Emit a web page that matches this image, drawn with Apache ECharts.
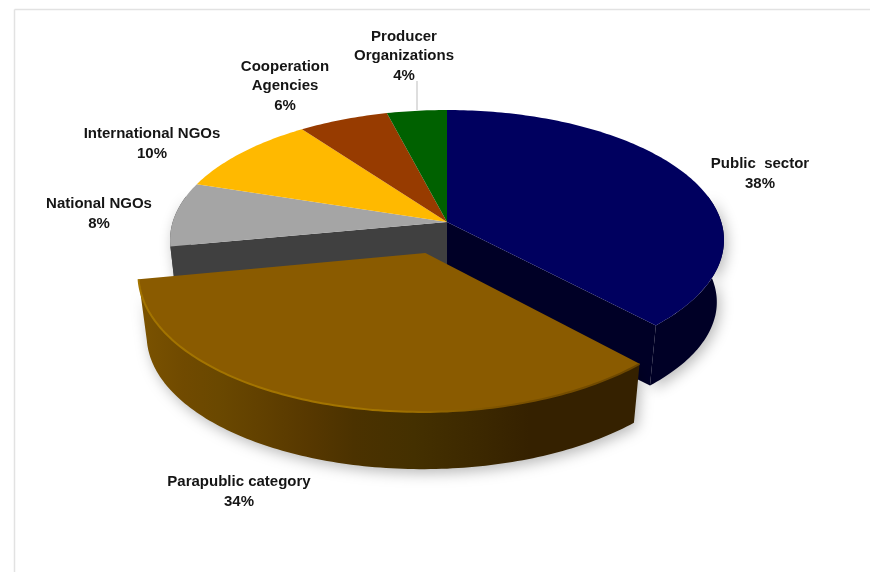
<!DOCTYPE html>
<html>
<head>
<meta charset="utf-8">
<style>html,body{margin:0;padding:0;background:#fff}#c{width:870px;height:572px}</style>
<script src="https://cdn.jsdelivr.net/npm/echarts@6/dist/echarts.min.js"></script>
</head>
<body>
<div id="c"></div>
<script>
// ---- data ----
var categories = ['Public  sector', 'Parapublic category', 'National NGOs', 'International NGOs', 'Cooperation\nAgencies', 'Producer\nOrganizations'];
var shares = [38, 34, 8, 10, 6, 4];
var explodedCategory = 'Parapublic category';

// ---- styles (one entry per category) ----
var topColors = ['#00005f', '#8a5b00', '#a5a5a5', '#ffb900', '#973b00', '#006100'];
var wallColors = ['#000026', '#5a3c00', '#404040', '#664a00', '#3c1800', '#002700'];
var labelCentres = [[760, 174], [239, 492], [99, 214], [152, 144], [285, 86], [404, 56]];

// ---- projection of the tilted disc ----
var cx = 447, apexY = 222, baseY = 285, a = 274.3, b = 127.5, k = -0.1385, depthW = 0.026, explode = 0.247;
function project(u, v, bottom) {
  var w = 1 + k * v + (bottom ? depthW : 0);
  return [cx + a * u / w, (bottom ? baseY : apexY) + b * v / w];
}
function rim(deg, off, bottom) {
  var t = deg * Math.PI / 180;
  return project(Math.sin(t) + off[0], -Math.cos(t) + off[1], bottom);
}
function arc(from, to, off, bottom) {
  var pts = [], n = Math.max(2, Math.ceil(Math.abs(to - from)));
  for (var i = 0; i <= n; i++) pts.push(rim(from + (to - from) * i / n, off, bottom));
  return pts;
}
var total = shares.reduce(function (s, v) { return s + v; }, 0);

function renderSlice(params, api) {
  var idx = params.dataIndex, before = 0;
  for (var i = 0; i < idx; i++) before += shares[i];
  var start = before / total * 360, end = start + api.value(0) / total * 360;
  var isExploded = categories[idx] === explodedCategory;
  var off = [0, 0];
  if (isExploded) {
    var mid = (start + end) / 2 * Math.PI / 180;
    off = [explode * Math.sin(mid), -explode * Math.cos(mid)];
  }
  var base = isExploded ? 10 : 0, children = [];
  var apexTop = project(off[0], off[1], false), apexBottom = project(off[0], off[1], true);

  // outer wall, front-facing part only
  var from = Math.max(start, 78), to = Math.min(end, 282);
  if (to > from) {
    var fill = wallColors[idx];
    if (isExploded) {
      fill = new echarts.graphic.LinearGradient(0, 0, 1, 0, [
        {offset: 0, color: '#7b5300'}, {offset: .09, color: '#704a00'}, {offset: .16, color: '#6a4800'},
        {offset: .24, color: '#624100'}, {offset: .34, color: '#573800'}, {offset: .43, color: '#4b3200'},
        {offset: .55, color: '#443000'}, {offset: .68, color: '#3c2800'}, {offset: .78, color: '#352100'}, {offset: 1, color: '#352100'}
      ]);
    }
    children.push({type: 'polygon', z2: base + 1, silent: true,
      shape: {points: arc(from, to, off, false).concat(arc(to, from, off, true))},
      style: {fill: fill, shadowColor: 'rgba(0,0,0,0.28)', shadowBlur: 14, shadowOffsetX: 3, shadowOffsetY: 4}});
  }
  // radial walls exposed by the pulled-out slice
  if (!isExploded) {
    var next = categories[(idx + 1) % categories.length] === explodedCategory;
    var prev = categories[(idx - 1 + categories.length) % categories.length] === explodedCategory;
    [next ? end : null, prev ? start : null].forEach(function (deg) {
      if (deg === null) return;
      children.push({type: 'polygon', z2: base + 2, silent: true,
        shape: {points: [apexTop, rim(deg, off, false), rim(deg, off, true), apexBottom]},
        style: {fill: wallColors[idx]}});
    });
  }
  // top face
  children.push({type: 'polygon', z2: base + 3, silent: true,
    shape: {points: [apexTop].concat(arc(start, end, off, false))},
    style: {fill: topColors[idx]}});
  if (isExploded) {
    children.push({type: 'polyline', z2: base + 4, silent: true,
      shape: {points: arc(start, end, off, false)},
      style: {fill: null, lineWidth: 2, stroke: new echarts.graphic.LinearGradient(0, 0, 1, 0, [
        {offset: 0, color: '#a37400'}, {offset: .5, color: '#a37400'}, {offset: .72, color: '#7c5200'}, {offset: 1, color: '#6b4600'}
      ])}});
  }
  // label: category name + share
  var c = labelCentres[idx];
  children.push({type: 'text', z2: 30, silent: true,
    style: {x: c[0], y: c[1], text: categories[idx] + '\n' + api.value(0) + '%',
      font: 'bold 15px "Liberation Sans", Arial, sans-serif', lineHeight: 19.5,
      fill: '#151515', align: 'center', verticalAlign: 'middle'}});
  return {type: 'group', children: children};
}

var chart = echarts.init(document.getElementById('c'), null, {renderer: 'canvas'});
chart.setOption({
  animation: false,
  backgroundColor: '#ffffff',
  graphic: [
    {type: 'line', silent: true, shape: {x1: 14.5, y1: 9.5, x2: 870, y2: 9.5}, style: {stroke: '#e2e2e2', lineWidth: 1.5}},
    {type: 'line', silent: true, shape: {x1: 14.5, y1: 9.5, x2: 14.5, y2: 572}, style: {stroke: '#e2e2e2', lineWidth: 1.5}},
    {type: 'line', silent: true, shape: {x1: 417, y1: 81, x2: 417, y2: 110}, style: {stroke: '#bdbdbd', lineWidth: 1}}
  ],
  series: [{
    type: 'custom',
    coordinateSystem: 'none',
    renderItem: renderSlice,
    silent: true,
    data: categories.map(function (name, i) { return {name: name, value: [shares[i]]}; })
  }]
});
</script>
</body>
</html>
